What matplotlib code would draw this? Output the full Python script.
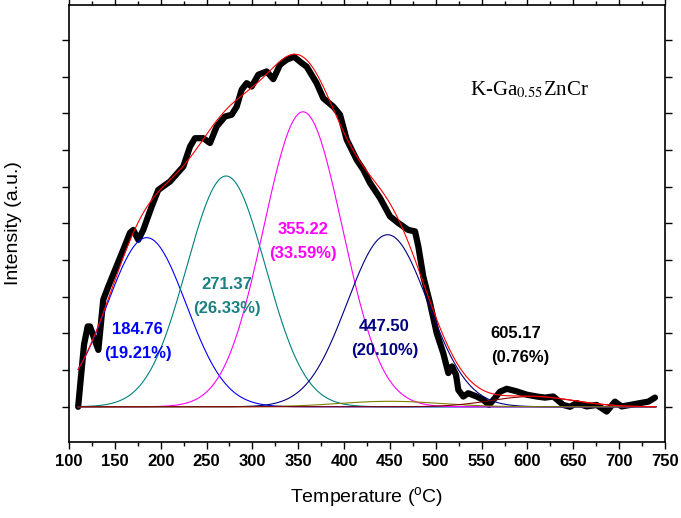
import numpy as np
import matplotlib.pyplot as plt
from matplotlib.ticker import MultipleLocator

plt.rcParams['font.family'] = ['Liberation Sans', 'DejaVu Sans']
plt.rcParams['mathtext.fontset'] = 'custom'
plt.rcParams['mathtext.rm'] = 'Liberation Sans'
plt.rcParams['mathtext.it'] = 'Liberation Sans'

temp = [110.0, 113.1, 116.4, 120.4, 122.9, 127.3, 132.0, 137.4, 142.9, 150.2,
        159.2, 166.5, 170.1, 175.6, 181.0, 190.2, 197.4, 210.2, 224.7, 232.0,
        237.4, 246.5, 253.8, 261.1, 270.1, 277.4, 282.9, 288.3, 293.8, 299.3,
        306.5, 315.6, 322.8, 330.1, 337.4, 345.4, 353.8, 359.2, 370.1, 377.3,
        388.3, 395.6, 402.9, 413.8, 421.0, 428.3, 439.2, 450.1, 459.1, 470.0,
        477.4, 481.0, 486.4, 493.7, 501.0, 508.2, 513.7, 517.7, 522.1, 524.6,
        530.0, 535.5, 544.6, 551.8, 558.1, 564.6, 570.0, 577.4, 588.3, 599.2,
        610.1, 619.1, 628.2, 639.1, 646.4, 653.7, 664.6, 675.5, 686.4, 695.4,
        702.7, 711.8, 722.7, 731.8, 739.1]
signal = [0.00, 0.83, 1.69, 2.19, 2.19, 1.88, 1.55, 2.92, 3.28, 3.73,
          4.28, 4.74, 4.82, 4.55, 4.82, 5.46, 5.91, 6.14, 6.55, 7.09,
          7.32, 7.32, 7.19, 7.64, 7.91, 7.96, 8.18, 8.64, 8.82, 8.73,
          9.05, 9.14, 8.93, 9.32, 9.46, 9.54, 9.37, 9.27, 8.82, 8.41,
          8.18, 7.96, 7.28, 6.73, 6.46, 6.10, 5.69, 5.19, 5.01, 4.82,
          4.78, 4.37, 3.55, 2.83, 2.01, 1.46, 0.92, 1.10, 0.87, 0.46,
          0.28, 0.37, 0.28, 0.19, 0.05, 0.24, 0.41, 0.49, 0.42, 0.33,
          0.28, 0.25, 0.28, 0.05, 0.00, 0.10, 0.01, 0.05, -0.13, 0.14,
          0.01, 0.05, 0.10, 0.14, 0.25]

# gaussian components of the fit
centers = [184.76, 271.37, 355.22, 447.50, 450.0, 605.17]
heights = [4.61, 6.29, 8.04, 4.69, 0.15, 0.28]
widths = [43, 43, 43, 44, 55, 45]
colors = ['#0000ff', '#008080', '#ff00ff', '#000080', '#808000', '#800000']

peak_labels = ['184.76\n(19.21%)', '271.37\n(26.33%)', '355.22\n(33.59%)',
               '447.50\n(20.10%)', '605.17\n(0.76%)']
label_x = [175, 272, 355, 444, 560]
label_y = [1.78, 3.01, 4.5, 1.87, 1.66]
label_colors = ['#0000ff', '#1a8080', '#ff00ff', '#000080', '#000000']

fig = plt.figure(figsize=(6.81, 5.18), dpi=100)
ax = fig.add_axes([0.1013, 0.1467, 0.8752, 0.8436])

t = np.linspace(110, 740, 600)
comps = [h * np.exp(-(t - c) ** 2 / (2 * w ** 2)) for c, h, w in zip(centers, heights, widths)]

ax.plot(temp, signal, color='black', lw=4.5, solid_joinstyle='round', solid_capstyle='round', zorder=2)
for comp, col in zip(comps, colors):
    ax.plot(t, comp, color=col, lw=0.8, zorder=3)
ax.plot(t, np.sum(comps, axis=0), color='#ff0000', lw=0.8, zorder=4)

for txt, x, y, col in zip(peak_labels, label_x, label_y, label_colors):
    ha = 'left' if x > 500 else 'center'
    ax.text(x, y, txt, color=col, fontsize=12, fontweight='bold', ha=ha, va='center',
            linespacing=1.75)

ax.text(537, 8.5, 'K-Ga$_{0.55}$ZnCr', fontsize=15, family='Liberation Serif',
        math_fontfamily='stix', ha='left', va='baseline')

ax.set_xlim(100, 750)
ax.set_ylim(-0.96, 10.95)
ax.xaxis.set_major_locator(MultipleLocator(50))
ax.xaxis.set_minor_locator(MultipleLocator(25))
ax.yaxis.set_major_locator(MultipleLocator(1))
ax.set_yticklabels([])
ax.tick_params(which='both', direction='out', top=True, right=True, width=1)
ax.tick_params(which='major', length=5)
ax.tick_params(which='minor', length=3)
for lab in ax.get_xticklabels():
    lab.set_fontweight('bold')
    lab.set_fontsize(12)
for sp in ax.spines.values():
    sp.set_linewidth(1.2)

ax.set_xlabel('Temperature ($^\\mathrm{o}$C)', fontsize=14, labelpad=12)
ax.set_ylabel('Intensity (a.u.)', fontsize=14, labelpad=25)

fig.savefig('out.png', dpi=100)
